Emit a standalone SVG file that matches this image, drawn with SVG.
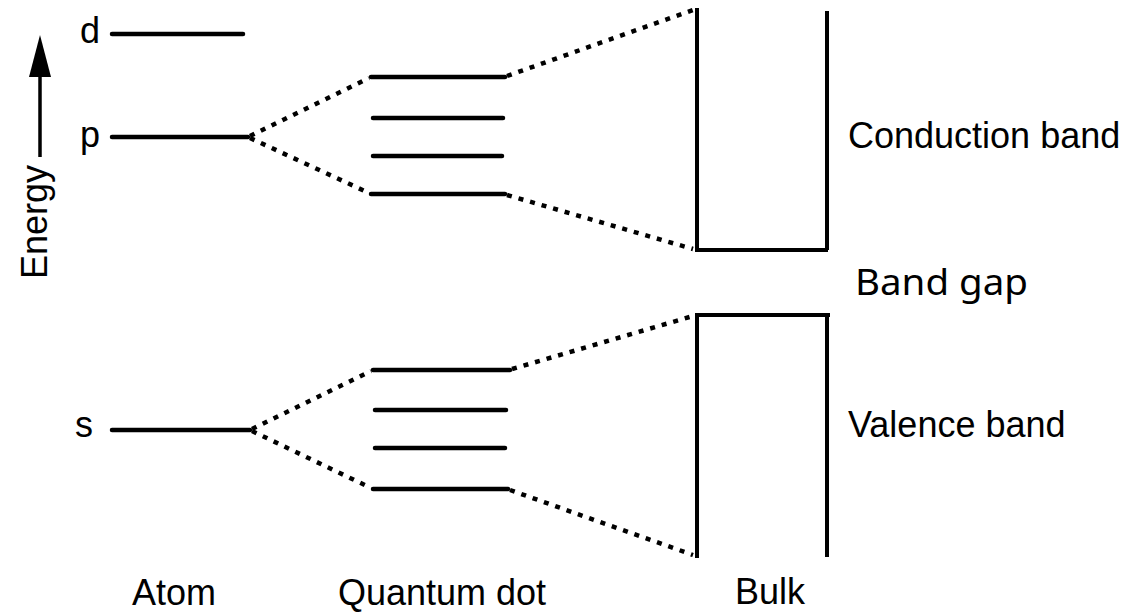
<svg xmlns="http://www.w3.org/2000/svg" width="1131" height="615" viewBox="0 0 1131 615">
<defs>
<style>
.lvl{stroke:#000;stroke-width:4.5;stroke-linecap:round;fill:none}
.band{stroke:#000;stroke-width:4;fill:none;stroke-linejoin:miter}
.dot{stroke:#000;stroke-width:4.5;stroke-dasharray:5 7;fill:none}
.lbl{font-family:"Liberation Sans",Arial,sans-serif;font-size:36px;fill:#000}
.gap{font-family:"Noto Sans","Open Sans",sans-serif;font-size:37px;fill:#000}
</style>
</defs>
<rect width="1131" height="615" fill="#fff"/>

<g id="energy-axis">
<line x1="40" y1="157" x2="40" y2="70" stroke="#000" stroke-width="3.5"/>
<polygon points="40,35 29,77 51,77" fill="#000"/>
<text class="lbl" transform="translate(47,279) rotate(-90)">Energy</text>
</g>

<g id="atom">
<text class="lbl" x="80" y="43">d</text>
<line class="lvl" x1="112" y1="34" x2="243" y2="34"/>
<text class="lbl" x="80" y="147">p</text>
<line class="lvl" x1="112" y1="137" x2="248" y2="137"/>
<text class="lbl" x="75" y="437">s</text>
<line class="lvl" x1="112" y1="430" x2="250" y2="430"/>
<text class="lbl" x="132" y="605">Atom</text>
</g>

<g id="quantum-dot-upper">
<line class="lvl" x1="371" y1="77" x2="505" y2="77"/>
<line class="lvl" x1="373" y1="118" x2="503" y2="118" stroke-width="4"/>
<line class="lvl" x1="373" y1="156" x2="502" y2="156" stroke-width="4"/>
<line class="lvl" x1="371" y1="194" x2="505" y2="194"/>
</g>

<g id="quantum-dot-lower">
<line class="lvl" x1="373" y1="370" x2="510" y2="370"/>
<line class="lvl" x1="375" y1="410" x2="506" y2="410" stroke-width="4"/>
<line class="lvl" x1="375" y1="448" x2="505" y2="448" stroke-width="4"/>
<line class="lvl" x1="373" y1="489" x2="508" y2="489"/>
<text class="lbl" x="338" y="605">Quantum dot</text>
</g>

<g id="bulk-conduction">
<polyline class="band" points="697,8 697,250 828,250"/>
<line class="band" x1="827" y1="11" x2="827" y2="250"/>
<text class="lbl" x="848" y="148">Conduction band</text>
</g>

<g id="band-gap">
<text class="gap" x="855" y="295" textLength="173" lengthAdjust="spacingAndGlyphs">Band gap</text>
</g>

<g id="bulk-valence">
<polyline class="band" points="830,315 697,315 697,558"/>
<line class="band" x1="827" y1="315" x2="827" y2="557"/>
<text class="lbl" x="848" y="437">Valence band</text>
<text class="lbl" x="735" y="604">Bulk</text>
</g>

<g id="connectors">
<line class="dot" x1="250" y1="136" x2="369" y2="78"/>
<line class="dot" x1="250" y1="138" x2="369" y2="193"/>
<line class="dot" x1="507" y1="76" x2="693" y2="10"/>
<line class="dot" x1="507" y1="195" x2="693" y2="249"/>
<line class="dot" x1="252" y1="429" x2="371" y2="371"/>
<line class="dot" x1="252" y1="431" x2="371" y2="488"/>
<line class="dot" x1="512" y1="369" x2="693" y2="316"/>
<line class="dot" x1="510" y1="490" x2="693" y2="555"/>
</g>
</svg>
